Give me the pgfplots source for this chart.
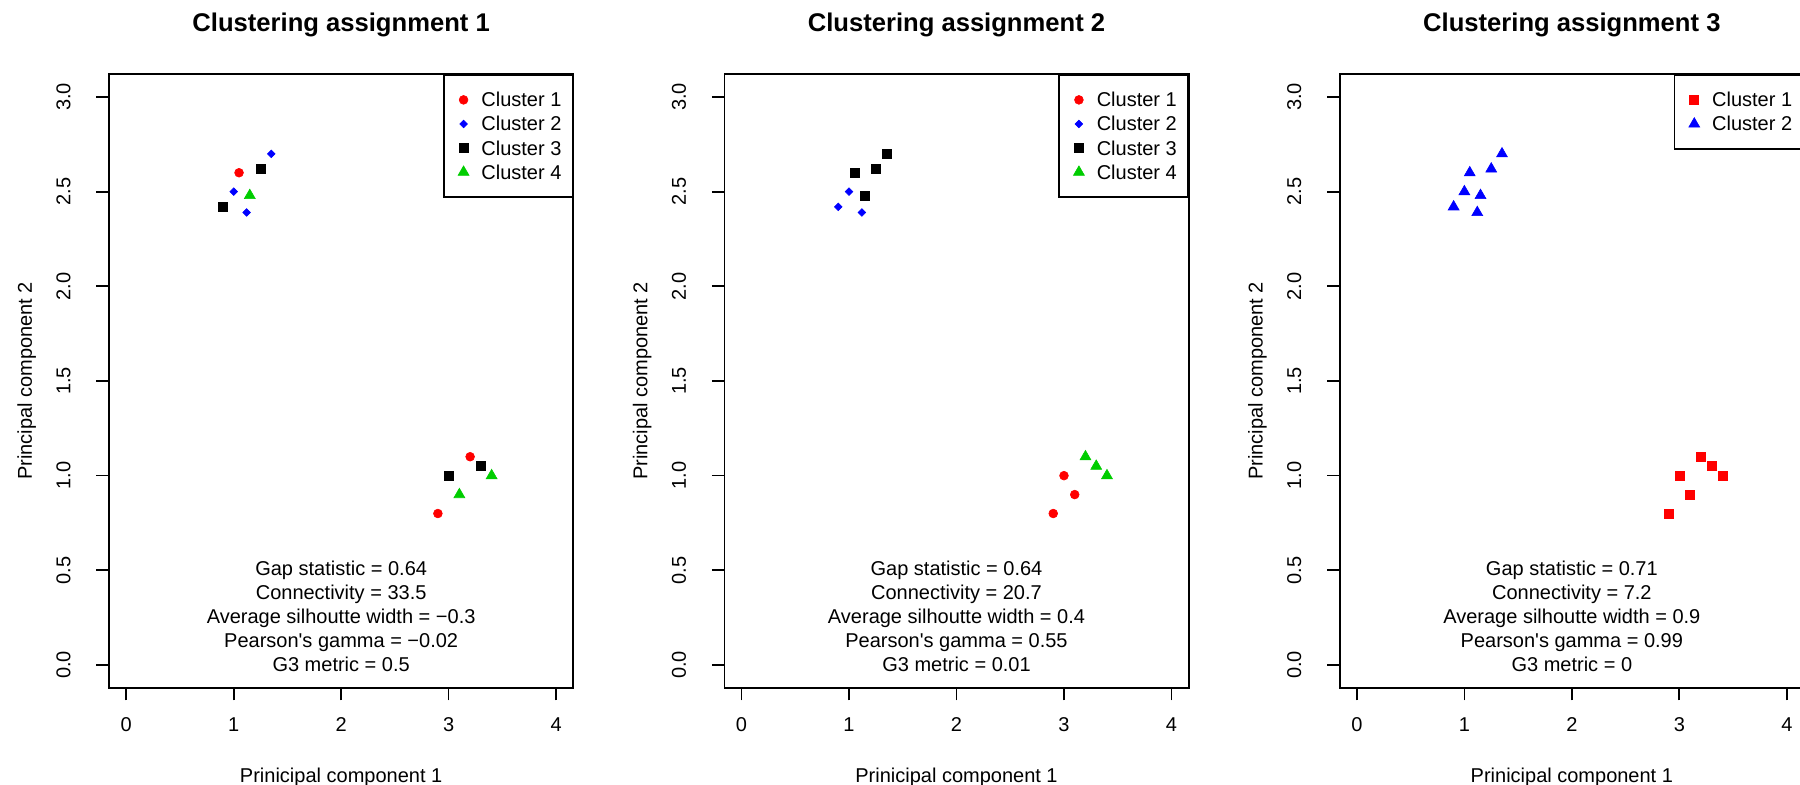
\documentclass[border=0pt]{standalone}
\usepackage{fontspec}
\setmainfont{Liberation Sans}
\usepackage{pgfplots}
\pgfplotsset{compat=1.18}

\definecolor{rred}{RGB}{255,0,0}
\definecolor{rblue}{RGB}{0,0,255}
\definecolor{rgreen}{RGB}{0,205,0}

\newcommand{\basefont}{\fontsize{10}{12}\selectfont}

\pgfplotsset{
  rpanel/.style={
    scale only axis,
    width=232.15pt, height=306.7pt,
    anchor=south west,
    xmin=-0.16, xmax=4.16, ymin=-0.12, ymax=3.12,
    xtick={0,1,2,3,4}, xticklabels={0,1,2,3,4},
    ytick={0,0.5,1,1.5,2,2.5,3},
    yticklabels={0.0,0.5,1.0,1.5,2.0,2.5,3.0},
    tick pos=left, tick align=outside,
    major tick length=6.3pt,
    axis line style={line width=0.85pt},
    tick style={black, line width=0.85pt},
    font=\basefont,
    xticklabel style={inner sep=0pt, anchor=base, yshift=-15.7pt},
    yticklabel style={inner sep=0pt, anchor=base, xshift=-13pt, rotate=90},
    xlabel={Prinicipal component 1},
    ylabel={Principal component 2},
    xlabel style={at={(axis description cs:0.5,0)}, anchor=base, yshift=-47.5pt, inner sep=0pt},
    ylabel style={at={([xshift=-38.5pt]axis description cs:0,0.5)}, anchor=base, inner sep=0pt, rotate=0},
    title style={at={(axis description cs:0.5,1)}, anchor=base, yshift=15.2pt,
                 inner sep=0pt, font=\bfseries\fontsize{12.8}{15}\selectfont},
    legend cell align=left,
    legend style={at={(1,1)}, anchor=north east, draw=black, line width=0.85pt,
      fill=white, inner xsep=5.5pt, inner ysep=6.35pt, row sep=0pt, column sep=0pt,
      font=\basefont, cells={anchor=west},
      nodes={inner sep=0pt, outer sep=0pt, text height=9.1pt, text depth=2.1pt}},
  },
  rmark/.style={only marks, mark options={solid, line width=0.3pt},
    legend image code/.code={%
      \path (0pt,-5.6pt) (12.5pt,5.6pt);
      \draw[##1] plot coordinates {(4pt,0pt)};}},
  dot/.style={rmark, color=#1, mark=*, mark size=2.2pt},
  dia/.style={rmark, color=#1, mark=square*, mark size=1.35pt,
    mark options={solid, line width=0.3pt, rotate=45}},
  sqr/.style={rmark, color=#1, mark=square*, mark size=2.25pt},
  tri/.style={rmark, color=#1, mark=triangle*, mark size=3.15pt},
}

\begin{document}
\begin{tikzpicture}

% assignment 1
\begin{axis}[rpanel, at={(54.5pt,48.65pt)}, title={Clustering assignment 1}]
\addplot[dot=rred] coordinates {(1.05,2.6) (3.2,1.1) (2.9,0.8)};
\addlegendentry{Cluster 1}
\addplot[dia=rblue] coordinates {(1.35,2.7) (1.0,2.5) (1.12,2.39)};
\addlegendentry{Cluster 2}
\addplot[sqr=black] coordinates {(1.25,2.62) (0.9,2.42) (3.3,1.05) (3.0,1.0)};
\addlegendentry{Cluster 3}
\addplot[tri=rgreen] coordinates {(1.15,2.48) (3.4,1.0) (3.1,0.9)};
\addlegendentry{Cluster 4}
\node[anchor=south, align=center, inner sep=0pt, font=\basefont]
  at ([yshift=7.8pt]axis description cs:0.5,0)
  {Gap statistic = 0.64\\Connectivity = 33.5\\Average silhoutte width = −0.3\\
   Pearson\textquotesingle s gamma = −0.02\\G3 metric = 0.5};
\end{axis}

% assignment 2
\begin{axis}[rpanel, at={(362.175pt,48.65pt)}, title={Clustering assignment 2}]
\addplot[dot=rred] coordinates {(3.0,1.0) (3.1,0.9) (2.9,0.8)};
\addlegendentry{Cluster 1}
\addplot[dia=rblue] coordinates {(1.0,2.5) (0.9,2.42) (1.12,2.39)};
\addlegendentry{Cluster 2}
\addplot[sqr=black] coordinates {(1.35,2.7) (1.05,2.6) (1.25,2.62) (1.15,2.48)};
\addlegendentry{Cluster 3}
\addplot[tri=rgreen] coordinates {(3.2,1.1) (3.3,1.05) (3.4,1.0)};
\addlegendentry{Cluster 4}
\node[anchor=south, align=center, inner sep=0pt, font=\basefont]
  at ([yshift=7.8pt]axis description cs:0.5,0)
  {Gap statistic = 0.64\\Connectivity = 20.7\\Average silhoutte width = 0.4\\
   Pearson\textquotesingle s gamma = 0.55\\G3 metric = 0.01};
\end{axis}

% assignment 3
\begin{axis}[rpanel, at={(669.85pt,48.65pt)}, title={Clustering assignment 3}]
\addplot[sqr=rred] coordinates {(3.2,1.1) (3.3,1.05) (3.4,1.0) (3.0,1.0) (3.1,0.9) (2.9,0.8)};
\addlegendentry{Cluster 1}
\addplot[tri=rblue] coordinates {(1.05,2.6) (1.35,2.7) (1.25,2.62) (1.0,2.5) (1.15,2.48) (0.9,2.42) (1.12,2.39)};
\addlegendentry{Cluster 2}
\node[anchor=south, align=center, inner sep=0pt, font=\basefont]
  at ([yshift=7.8pt]axis description cs:0.5,0)
  {Gap statistic = 0.71\\Connectivity = 7.2\\Average silhoutte width = 0.9\\
   Pearson\textquotesingle s gamma = 0.99\\G3 metric = 0};
\end{axis}

\pgfresetboundingbox
\path[use as bounding box] (0pt,0pt) rectangle (900pt,392.5pt);
\end{tikzpicture}
\end{document}
